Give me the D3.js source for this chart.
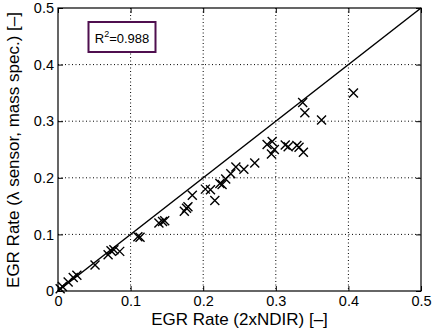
<!DOCTYPE html>
<html>
<head>
<meta charset="utf-8">
<script src="https://cdn.jsdelivr.net/npm/d3@7"></script>
<style>
  body { margin: 0; background: #fff; }
  text { font-family: "Liberation Sans", Arial, Helvetica, sans-serif; }
</style>
</head>
<body>
<div id="chart"></div>
<script>
// measured EGR rate pairs: x = 2xNDIR, y = lambda sensor / mass spec
var ndir = [0.003, 0.006, 0.014, 0.021, 0.026, 0.051, 0.069, 0.073, 0.077, 0.085,
  0.110, 0.113, 0.139, 0.144, 0.147, 0.174, 0.177, 0.179, 0.185, 0.203,
  0.210, 0.216, 0.223, 0.226, 0.231, 0.238, 0.245, 0.256, 0.271, 0.288,
  0.295, 0.294, 0.298, 0.313, 0.317, 0.329, 0.332, 0.338, 0.337, 0.340,
  0.363, 0.407]
var lambda = [0.004, 0.008, 0.016, 0.024, 0.028, 0.046, 0.064, 0.071, 0.073, 0.070,
  0.096, 0.095, 0.120, 0.123, 0.124, 0.141, 0.146, 0.149, 0.169, 0.180,
  0.179, 0.160, 0.190, 0.188, 0.198, 0.207, 0.219, 0.215, 0.226, 0.259,
  0.264, 0.242, 0.250, 0.258, 0.255, 0.257, 0.254, 0.245, 0.333, 0.315,
  0.302, 0.350]
var ticks = [0, 0.1, 0.2, 0.3, 0.4, 0.5]
var tickLabels = ["0", "0.1", "0.2", "0.3", "0.4", "0.5"]
var rSquared = "0.988"

var width = 432, height = 336
var padL = 58, padR = 421, padT = 8, padB = 291

var svg = d3.select("#chart").append("svg")
  .attr("width", width)
  .attr("height", height)

var x = d3.scaleLinear().domain([0, 0.5]).range([padL, padR])
var y = d3.scaleLinear().domain([0, 0.5]).range([padB, padT])

// dotted grid
var grid = svg.append("g")
  .attr("stroke", "#000")
  .attr("stroke-width", 1)
  .attr("stroke-dasharray", "1,2.5")
grid.selectAll(".vg").data(ticks.slice(1, -1)).enter().append("line")
  .attr("x1", d => x(d)).attr("x2", d => x(d))
  .attr("y1", padT).attr("y2", padB)
grid.selectAll(".hg").data(ticks.slice(1, -1)).enter().append("line")
  .attr("y1", d => y(d)).attr("y2", d => y(d))
  .attr("x1", padL).attr("x2", padR)

// axes, ticks inward on every side
function styleAxis(g) {
  g.select(".domain").remove()
  g.selectAll("line").attr("stroke", "#000")
  g.selectAll("text").attr("font-size", 14.5).attr("fill", "#000")
}

svg.append("g")
  .attr("transform", `translate(0,${padB})`)
  .call(d3.axisBottom(x).tickValues(ticks).tickFormat((d, i) => tickLabels[i]).tickSizeInner(-5).tickPadding(5))
  .call(styleAxis)
svg.append("g")
  .attr("transform", `translate(0,${padT})`)
  .call(d3.axisTop(x).tickValues(ticks).tickFormat("").tickSizeInner(-5))
  .call(styleAxis)
svg.append("g")
  .attr("transform", `translate(${padL},0)`)
  .call(d3.axisLeft(y).tickValues(ticks).tickFormat((d, i) => tickLabels[i]).tickSizeInner(-5).tickPadding(4))
  .call(styleAxis)
svg.append("g")
  .attr("transform", `translate(${padR},0)`)
  .call(d3.axisRight(y).tickValues(ticks).tickFormat("").tickSizeInner(-5))
  .call(styleAxis)

svg.append("rect")
  .attr("x", padL).attr("y", padT)
  .attr("width", padR - padL).attr("height", padB - padT)
  .attr("fill", "none").attr("stroke", "#000").attr("stroke-width", 1.2)

// 1:1 line
svg.append("line")
  .attr("x1", x(0)).attr("y1", y(0))
  .attr("x2", x(0.5)).attr("y2", y(0.5))
  .attr("stroke", "#000").attr("stroke-width", 1.5)

// x markers
var s = 4.5
svg.append("g").attr("stroke", "#000").attr("stroke-width", 1.4)
  .selectAll("path").data(ndir).enter().append("path")
  .attr("d", (d, i) => {
    var cx = x(d), cy = y(lambda[i])
    return `M${cx - s},${cy - s}L${cx + s},${cy + s}M${cx - s},${cy + s}L${cx + s},${cy - s}`
  })

// R^2 box
svg.append("rect")
  .attr("x", 88.5).attr("y", 22)
  .attr("width", 67).attr("height", 30)
  .attr("fill", "#fff").attr("stroke", "#4f0f4f").attr("stroke-width", 2)
var rt = svg.append("text")
  .attr("x", 122).attr("y", 43)
  .attr("text-anchor", "middle")
  .attr("font-size", 13)
rt.append("tspan").text("R")
rt.append("tspan").attr("font-size", 9).attr("dy", -6).text("2")
rt.append("tspan").attr("dy", 6).text("=" + rSquared)

// axis labels
svg.append("text")
  .attr("x", (padL + padR) / 2).attr("y", 325)
  .attr("text-anchor", "middle").attr("font-size", 17)
  .text("EGR Rate (2xNDIR) [\u2013]")
svg.append("text")
  .attr("transform", "translate(19,150) rotate(-90)")
  .attr("text-anchor", "middle").attr("font-size", 17)
  .text("EGR Rate (\u03bb sensor, mass spec.) [\u2013]")
</script>
</body>
</html>
